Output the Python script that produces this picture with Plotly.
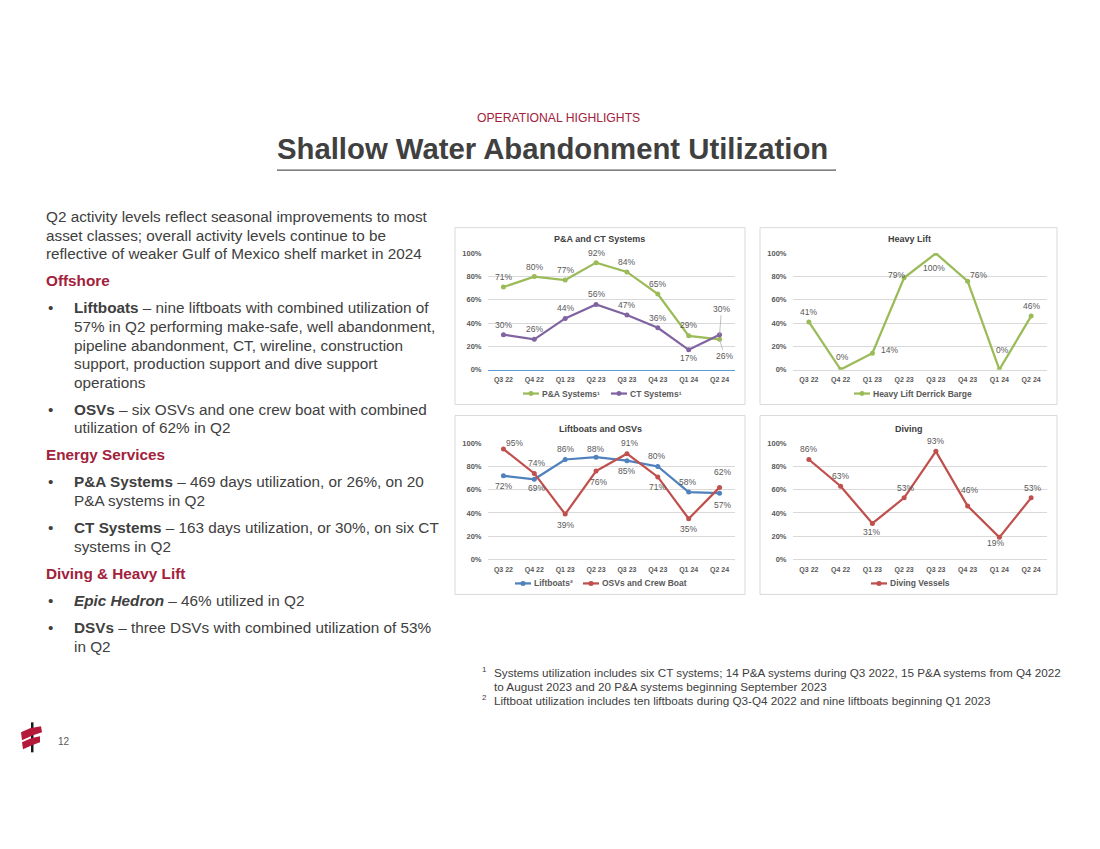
import plotly.graph_objects as go

W, H = 1100, 849
OFFX, OFFY = 8, 8  # page body margin compensation
VS, VC = 0.99, 3.3  # small vertical capture correction
FONT = "Arial, Liberation Sans, sans-serif"

# ---------------- data ----------------
quarters = ["Q3 22", "Q4 22", "Q1 23", "Q2 23", "Q3 23", "Q4 23", "Q1 24", "Q2 24"]
pa_systems = [71, 80, 77, 92, 84, 65, 29, 26]
ct_systems = [30, 26, 44, 56, 47, 36, 17, 30]
heavy_lift = [41, 0, 14, 79, 100, 76, 0, 46]
liftboats = [72, 69, 86, 88, 85, 80, 58, 57]
osvs = [95, 74, 39, 76, 91, 71, 35, 62]
diving = [86, 63, 31, 53, 93, 46, 19, 53]
y_ticks = [0, 20, 40, 60, 80, 100]

# label offsets (px) -- style only
pa_off = [(0, -10), (0, -10), (0, -10), (0, -10), (0, -10), (0, -10), (0, -11), None]
ct_off = [(0, -10), (0, -10), (0, -10), (0, -10), (0, -10), (0, -10), (0, 8), None]
hl_off = [(0, -10), (2, -13), (17, -3), (-8, -3), (-2, 15), (11, -6), (3, -20), (0, -10)]
lb_off = [(0, 10), (2, 9), (0, -10), (-1, -8), (0, 10), (-1, -10), (-1, -10), (3, 12)]
osv_off = [(11, -6), (2, -10), (0, 11), (2, 11), (3, -11), (0, 10), (0, 10), (3, -15)]
dv_off = [(0, -10), (0, -10), (-1, 9), (1, -10), (0, -10), (2, -16), (-4, 6), (1, -10)]

GREEN = "#9BBB59"
PURPLE = "#8064A2"
BLUE = "#4F81BD"
RED = "#C0504D"
LBL = "#595959"
DARK = "#404040"
MAROON = "#A2213B"


def px(x):
    return (x - OFFX) / W


def py(y):
    return 1 - ((y - VC) / VS - OFFY) / H


fig = go.Figure()

panels = {
    1: dict(x=(488, 735), y=(252.7, 369), box=(455, 227, 745, 404), title="P&A and CT Systems",
            tpos=(599, 238), xline="#5B9BD5"),
    2: dict(x=(793, 1047), y=(252.7, 369), box=(760, 227, 1057, 404), title="Heavy Lift",
            tpos=(909, 238), xline="#D9D9D9"),
    3: dict(x=(488, 735), y=(442.7, 559), box=(455, 415, 745, 594), title="Liftboats and OSVs",
            tpos=(600, 428), xline="#D9D9D9"),
    4: dict(x=(793, 1047), y=(442.7, 559), box=(760, 415, 1057, 594), title="Diving",
            tpos=(909, 428), xline="#D9D9D9"),
}

layout = {}
shapes = []
annotations = []

for i, p in panels.items():
    sx = "" if i == 1 else str(i)
    layout["xaxis" + sx] = dict(
        domain=[px(p["x"][0]), px(p["x"][1])], anchor="y" + sx,
        type="category", categoryorder="array", categoryarray=quarters,
        range=[-0.5, 7.5], showgrid=False, showline=True, linecolor=p["xline"], linewidth=1,
        ticks="outside", ticklen=3, tickcolor="rgba(0,0,0,0)",
        tickfont=dict(size=7, color=LBL, family=FONT, weight="bold"), fixedrange=True,
    )
    layout["yaxis" + sx] = dict(
        domain=[py(p["y"][1]), py(p["y"][0])], anchor="x" + sx,
        range=[0, 100], tickmode="array", tickvals=y_ticks, ticktext=[f"{v}%" for v in y_ticks],
        showgrid=True, gridcolor="#D9D9D9", gridwidth=1, zeroline=False, showline=False,
        ticks="outside", ticklen=4, tickcolor="rgba(0,0,0,0)",
        tickfont=dict(size=7.5, color=LBL, family=FONT, weight="bold"), fixedrange=True,
    )
    b = p["box"]
    shapes.append(dict(type="rect", xref="paper", yref="paper",
                       x0=px(b[0]), x1=px(b[2]), y0=py(b[3]), y1=py(b[1]),
                       line=dict(color="#D9D9D9", width=1), fillcolor="rgba(0,0,0,0)", layer="below"))
    annotations.append(dict(xref="paper", yref="paper", x=px(p["tpos"][0]), y=py(p["tpos"][1]),
                            text="<b>" + p["title"] + "</b>", showarrow=False,
                            xanchor="center", yanchor="middle",
                            font=dict(size=9, color=DARK, family=FONT)))

# (panel, name, values, colour, label offsets, legend line start x, legend y)
series = [
    (1, "P&A Systems¹", pa_systems, GREEN, pa_off, 523, 393),
    (1, "CT Systems¹", ct_systems, PURPLE, ct_off, 611, 393),
    (2, "Heavy Lift Derrick Barge", heavy_lift, GREEN, hl_off, 854, 393),
    (3, "Liftboats²", liftboats, BLUE, lb_off, 515, 583),
    (3, "OSVs and Crew Boat", osvs, RED, osv_off, 583, 583),
    (4, "Diving Vessels", diving, RED, dv_off, 871, 583),
]

for i, name, vals, color, offs, lx, ly in series:
    sx = "" if i == 1 else str(i)
    fig.add_trace(go.Scatter(
        x=quarters, y=vals, mode="lines+markers", name=name,
        line=dict(color=color, width=2.25), marker=dict(size=5, color=color),
        xaxis="x" + sx, yaxis="y" + sx, hoverinfo="skip", showlegend=False,
    ))
    for q, v, o in zip(quarters, vals, offs):
        if o is None:
            continue
        annotations.append(dict(x=q, y=v, xref="x" + sx, yref="y" + sx, text=f"{v}%",
                                showarrow=False, xshift=o[0], yshift=-o[1],
                                font=dict(size=8.5, color=LBL, family=FONT)))
    # custom legend entry
    shapes.append(dict(type="line", xref="paper", yref="paper", x0=px(lx), x1=px(lx + 16),
                       y0=py(ly), y1=py(ly), line=dict(color=color, width=2.25)))
    shapes.append(dict(type="circle", xref="paper", yref="paper", x0=px(lx + 5.5), x1=px(lx + 10.5),
                       y0=py(ly + 2.5), y1=py(ly - 2.5), line=dict(width=0), fillcolor=color))
    annotations.append(dict(xref="paper", yref="paper", x=px(lx + 17), y=py(ly), text="<b>" + name + "</b>",
                            showarrow=False, xanchor="left", yanchor="middle",
                            font=dict(size=8.5, color=LBL, family=FONT)))

# leader-line labels in P&A / CT chart
annotations.append(dict(x=quarters[7], y=ct_systems[7], xref="x", yref="y", text=f"{ct_systems[7]}%",
                        showarrow=True, arrowhead=0, arrowwidth=0.7, arrowcolor="#A6A6A6",
                        ax=2, ay=-26, font=dict(size=8.5, color=LBL, family=FONT)))
annotations.append(dict(x=quarters[7], y=pa_systems[7], xref="x", yref="y", text=f"{pa_systems[7]}%",
                        showarrow=True, arrowhead=0, arrowwidth=0.7, arrowcolor="#A6A6A6",
                        ax=5, ay=17, font=dict(size=8.5, color=LBL, family=FONT)))


# ---------------- slide text ----------------
def txt(x, y, s, size, color=DARK, anchor="left"):
    annotations.append(dict(xref="paper", yref="paper", x=px(x), y=py(y), text=s, showarrow=False,
                            xanchor=anchor, yanchor="middle", font=dict(size=size, color=color, family=FONT)))


txt(558, 117.5, "OPERATIONAL HIGHLIGHTS", 12.2, MAROON, "center")
txt(552, 147.5, "<b>Shallow Water Abandonment Utilization</b>", 29.3, DARK, "center")
shapes.append(dict(type="line", xref="paper", yref="paper", x0=px(277), x1=px(836), y0=py(169.5), y1=py(169.5),
                   line=dict(color="#595959", width=1.3)))

BS = 15.3
intro = ["Q2 activity levels reflect seasonal improvements to most",
         "asset classes; overall activity levels continue to be",
         "reflective of weaker Gulf of Mexico shelf market in 2024"]
for s, y in zip(intro, [216, 234.5, 253]):
    txt(44, y, s, BS)

headers = [("Offshore", 280), ("Energy Services", 454), ("Diving &amp; Heavy Lift", 573)]
for s, y in headers:
    txt(44, y, "<b>" + s + "</b>", BS, MAROON)

bullets = [
    (["<b>Liftboats</b> – nine liftboats with combined utilization of",
      "57% in Q2 performing make-safe, well abandonment,",
      "pipeline abandonment, CT, wireline, construction",
      "support, production support and dive support",
      "operations"], [307, 326, 344.5, 363, 381.5]),
    (["<b>OSVs</b> – six OSVs and one crew boat with combined",
      "utilization of 62% in Q2"], [408.5, 427]),
    (["<b>P&amp;A Systems</b> – 469 days utilization, or 26%, on 20",
      "P&amp;A systems in Q2"], [481, 500]),
    (["<b>CT Systems</b> – 163 days utilization, or 30%, on six CT",
      "systems in Q2"], [527, 546]),
    (["<b><i>Epic Hedron</i></b> – 46% utilized in Q2"], [600]),
    (["<b>DSVs</b> – three DSVs with combined utilization of 53%",
      "in Q2"], [627, 646]),
]
for lines, ys in bullets:
    txt(46, ys[0], "•", BS)
    for s, y in zip(lines, ys):
        txt(72, y, s, BS)

FS = 11.7
txt(479.5, 669.5, "1", 8, DARK)
txt(479.5, 697.5, "2", 8, DARK)
foot = [("Systems utilization includes six CT systems; 14 P&amp;A systems during Q3 2022, 15 P&amp;A systems from Q4 2022", 672),
        ("to August 2023 and 20 P&amp;A systems beginning September 2023", 686),
        ("Liftboat utilization includes ten liftboats during Q3-Q4 2022 and nine liftboats beginning Q1 2023", 700)]
for s, y in foot:
    txt(492, y, s, FS, DARK)

txt(64, 741, "12", 10, "#595959", "center")


# logo
def path(pts):
    return "M " + " L ".join(f"{px(a)},{py(b)}" for a, b in pts) + " Z"


shapes.append(dict(type="rect", xref="paper", yref="paper", x0=px(31), x1=px(33.5), y0=py(752), y1=py(722),
                   line=dict(width=0), fillcolor="#1A1A1A"))
shapes.append(dict(type="path", xref="paper", yref="paper",
                   path=path([(21, 732), (30, 728), (41, 726), (42, 732), (33, 735), (22, 740)]),
                   line=dict(width=0), fillcolor="#B5193A"))
shapes.append(dict(type="path", xref="paper", yref="paper",
                   path=path([(22, 742), (31, 738), (40, 736), (40, 742), (32, 745), (23, 749)]),
                   line=dict(width=0), fillcolor="#B5193A"))

fig.update_layout(
    width=W, height=H, margin=dict(l=0, r=0, t=0, b=0),
    paper_bgcolor="white", plot_bgcolor="white", showlegend=False,
    shapes=shapes, annotations=annotations, font=dict(family=FONT), **layout,
)

fig.write_html("out.html")
